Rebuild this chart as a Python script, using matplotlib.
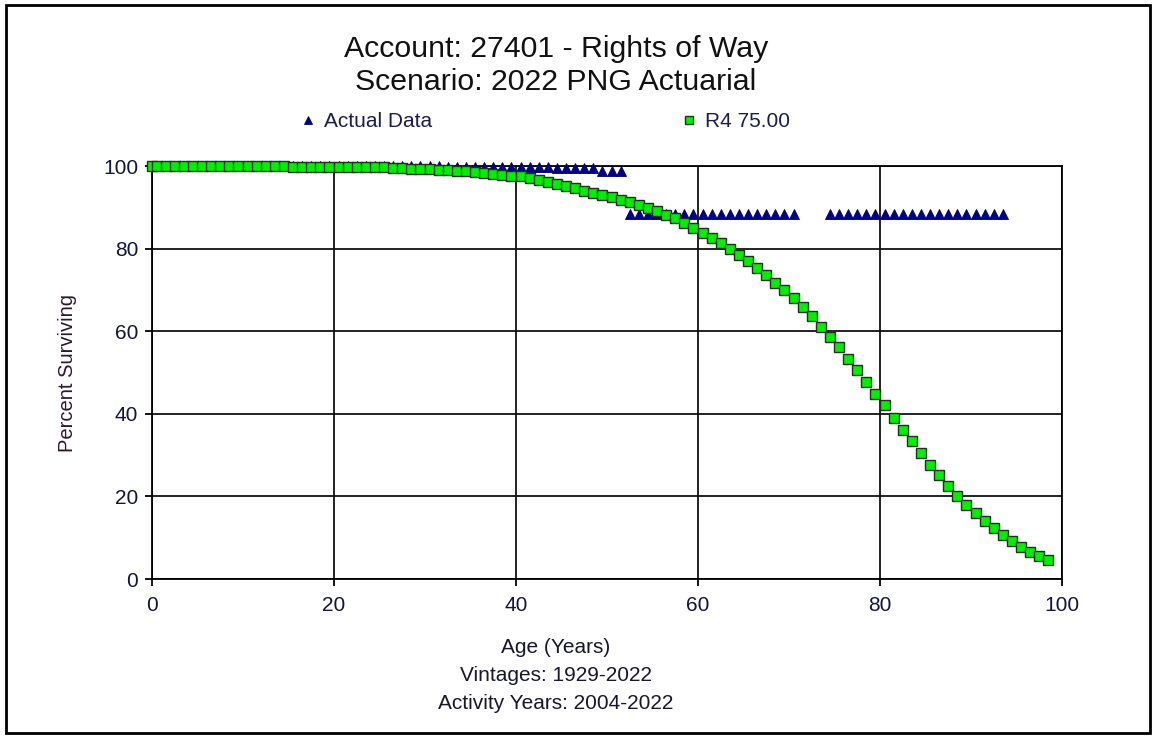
import numpy as np
import matplotlib.pyplot as plt
from matplotlib.patches import Rectangle

plt.rcParams['font.family'] = ['Liberation Sans', 'DejaVu Sans']

# Actual data (observed life table)
actual_age = [0.5 + i for i in range(49)] + [49.5, 50.5, 51.5] + \
    [52.5 + i for i in range(19)] + [74.5 + i for i in range(20)]
actual_pct = [100.0] * 27 + [99.9, 99.9, 99.9, 99.9, 99.9, 99.8, 99.8, 99.8, 99.8,
                              99.8, 99.7, 99.7, 99.7, 99.7, 99.7, 99.7, 99.7, 99.6,
                              99.6, 99.6, 99.6, 99.6] + \
    [98.8, 98.8, 98.8] + [88.5] * 19 + [88.5] * 20

# R4 75.00 fitted curve
curve_age = [0.0] + [0.5 + i for i in range(99)]
curve_pct = [100.0,
             100.0, 100.0, 100.0, 100.0, 100.0, 100.0,
             99.9, 99.9, 99.9, 99.9, 99.9, 99.9, 99.9, 99.9, 99.9,
             99.8, 99.8, 99.8, 99.8, 99.8, 99.8, 99.8,
             99.7, 99.7, 99.7, 99.7,
             99.6, 99.5, 99.4, 99.3, 99.2, 99.1, 99.0, 98.8, 98.7, 98.5,
             98.3, 98.1, 97.9, 97.7, 97.5, 97.1, 96.7, 96.2, 95.7, 95.1,
             94.6, 94.0, 93.5, 92.9, 92.4, 91.9, 91.2, 90.6, 89.9, 89.1,
             88.2, 87.3, 86.3, 85.1, 83.8, 82.6, 81.3, 79.8, 78.4, 76.9,
             75.3, 73.6, 71.8, 70.0, 68.0, 65.9, 63.6, 61.1, 58.6, 56.1,
             53.4, 50.6, 47.8, 44.9, 42.1, 39.1, 36.2, 33.4, 30.5, 27.7,
             25.1, 22.6, 20.2, 18.0, 15.9, 14.0, 12.3, 10.6, 9.1, 7.8,
             6.6, 5.6, 4.7]

ticks = [0, 20, 40, 60, 80, 100]

fig = plt.figure(figsize=(11.56, 7.38), dpi=100)
ax = fig.add_axes([0.1315, 0.2154, 0.7872, 0.5596])

ax.plot(actual_age, actual_pct, linestyle='none', marker='^', markersize=6.5,
        color='#00008b', markeredgecolor='#00006a', markeredgewidth=0.6,
        clip_on=False, label='Actual Data', zorder=3)
ax.plot(curve_age, curve_pct, linestyle='none', marker='s', markersize=6.8,
        color='#00f000', markeredgecolor='#1a331a', markeredgewidth=1.0,
        clip_on=False, label='R4 75.00', zorder=4)

ax.set_xlim(0, 100)
ax.set_ylim(0, 100)
ax.set_xticks(ticks)
ax.set_yticks(ticks)
ax.grid(True, color='#111111', linewidth=1.3)
ax.set_axisbelow(True)
for s in ax.spines.values():
    s.set_linewidth(1.3)
ax.tick_params(direction='out', length=5, width=1.3, labelsize=15,
               labelcolor='#14143c')
ax.tick_params(axis='x', pad=7)
ax.tick_params(axis='y', pad=5)

ax.set_ylabel('Percent Surviving', fontsize=14.5, color='#2a1a2a', labelpad=19)

fig.text(0.481, 0.934, 'Account: 27401 - Rights of Way', ha='center', va='center',
         fontsize=21.8, color='#111111')
fig.text(0.481, 0.889, 'Scenario: 2022 PNG Actuarial', ha='center', va='center',
         fontsize=21.8, color='#111111')

leg = fig.legend(loc='center left', bbox_to_anchor=(0.241, 0.835), ncol=2,
                 frameon=False, fontsize=15, handletextpad=0.3,
                 columnspacing=11.8, handlelength=1.0, markerscale=0.8)
for t in leg.get_texts():
    t.set_color('#1c1c50')

fig.text(0.481, 0.122, 'Age (Years)', ha='center', va='center', fontsize=15,
         color='#181828')
fig.text(0.481, 0.085, 'Vintages: 1929-2022', ha='center', va='center',
         fontsize=15, color='#181828')
fig.text(0.481, 0.047, 'Activity Years: 2004-2022', ha='center', va='center',
         fontsize=15, color='#181828')

fig.patches.append(Rectangle((6 / 1156, 5 / 738), 1144 / 1156, 728 / 738,
                             transform=fig.transFigure, fill=False,
                             edgecolor='black', linewidth=2))

fig.savefig('out.png', dpi=100)
